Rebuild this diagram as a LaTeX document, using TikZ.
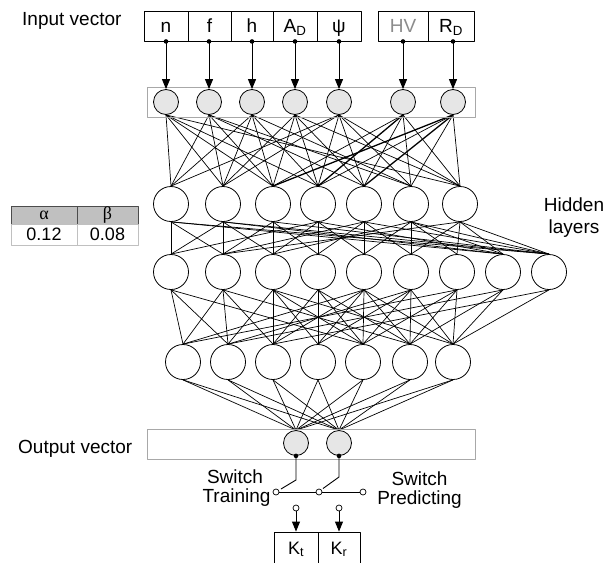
\documentclass[tikz,border=0pt]{standalone}
\usepackage{fontspec}
\setmainfont{Liberation Sans}
\newfontfamily\greekserif{Liberation Serif}
\usetikzlibrary{arrows.meta,backgrounds}

\definecolor{nodegray}{HTML}{E6E6E6}
\definecolor{framegray}{HTML}{A8A8A8}
\definecolor{headgray}{HTML}{C0C0C0}
\definecolor{textgray}{HTML}{8C8C8C}

\tikzset{
  txt/.style={inner sep=0pt, font=\fontsize{19}{22}\selectfont},
  cell/.style={draw, line width=0.9pt, rectangle, minimum height=30pt, inner sep=0pt,
    text height=13.6pt, text depth=1.6pt, font=\fontsize{19}{22}\selectfont},
  kcell/.style={draw, line width=0.9pt, rectangle, minimum height=40pt, inner sep=0pt,
    text height=12pt, text depth=8pt, font=\fontsize{18}{22}\selectfont},
  layerframe/.style={draw=framegray, line width=1pt, rectangle, minimum width=328pt,
    minimum height=30pt, inner sep=0pt},
  inode/.style={circle, draw, line width=0.8pt, fill=nodegray, minimum size=25pt, inner sep=0pt},
  hnode/.style={circle, draw, line width=0.8pt, fill=white, minimum size=35pt, inner sep=0pt},
  link/.style={line width=0.7pt},
  boldlink/.style={line width=1.3pt},
  arr/.style={line width=0.9pt, -{Triangle[length=10pt,width=8pt]}},
  pinnode/.style={circle, draw, line width=0.7pt, fill=white, minimum size=6pt, inner sep=0pt},
  hcell/.style={rectangle, draw=black!70, line width=0.9pt, fill=headgray, minimum height=18pt,
    inner sep=0pt, font=\greekserif\fontsize{18}{20}\selectfont},
  vcell/.style={rectangle, draw=headgray, line width=0.9pt, minimum height=21pt, inner sep=0pt,
    font=\fontsize{18}{20}\selectfont},
}

\begin{document}
\begin{tikzpicture}[x=1pt,y=-1pt,line join=round]
\useasboundingbox (0,0) rectangle (604,562);
\clip (0,0) rectangle (604,562);

% ---- input vector ----
\node[txt, anchor=base west] (lin) at (22,25) {Input vector};
\node[cell, minimum width=44pt] (cn) at (166,26) {n};
\node[cell, minimum width=43pt] (cf) at (209.5,26) {f};
\node[cell, minimum width=42pt] (ch) at (252,26) {h};
\node[cell, minimum width=44pt] (ca) at (295,26) {A\textsubscript{D}};
\node[cell, minimum width=44pt] (cp) at (339,26) {ψ};
\node[cell, minimum width=50pt, text=textgray] (cv) at (403,26) {HV};
\node[cell, minimum width=46pt] (cr) at (451,26) {R\textsubscript{D}};

% ---- input layer ----
\node[layerframe] (inframe) at (311,102) {};
\foreach \i/\x in {1/166,2/209,3/252,4/295,5/339,6/403,7/453}
  \node[inode] (i\i) at (\x,102) {};

\foreach \c/\i in {cn/1,cf/2,ch/3,ca/4,cp/5,cv/6,cr/7}{
  \draw[arr] (i\i.north |- \c.south) -- (i\i.north);
  \fill (i\i.north |- \c.south) circle (2.3);
}

% ---- hidden layers ----
\foreach \i/\x in {1/171,2/223,3/273,4/318,5/364,6/411,7/460}
  \node[hnode] (a\i) at (\x,204) {};
\foreach \i/\x in {1/171,2/223,3/273,4/318,5/364,6/411,7/457,8/503,9/549}
  \node[hnode] (b\i) at (\x,272) {};
\foreach \i/\x in {1/183,2/228,3/273,4/318,5/363,6/410,7/453}
  \node[hnode] (c\i) at (\x,362) {};

\node[txt, anchor=base] (lh1) at (574,211) {Hidden};
\node[txt, anchor=base] (lh2) at (574,233) {layers};

% ---- output layer ----
\node[layerframe] (outframe) at (311,444) {};
\node[inode] (o1) at (296,443) {};
\node[inode] (o2) at (339,443) {};
\node[txt, anchor=base west] (lout) at (18,453) {Output vector};

% ---- weights ----
\begin{scope}[on background layer]
  \fill[white] (0,0) rectangle (604,562);
  \foreach \s/\t in {1/1,1/2,1/3,1/4,1/7,
                     2/1,2/2,2/3,2/5,2/6,
                     3/1,3/2,3/3,3/4,3/6,
                     4/2,4/3,4/4,4/5,4/7,
                     5/1,5/2,5/4,5/5,5/6,5/7,
                     6/5,6/6,6/7,6/3,
                     7/4,7/6,7/7}
    \draw[link] (i\s.south) -- (a\t.north);
  \foreach \s/\t in {6/4,7/3,7/5}
    \draw[boldlink] (i\s.south) -- (a\t.north);

  \foreach \s/\t in {1/1,1/2,1/8,1/9,
                     2/1,2/2,2/3,2/8,2/9,
                     3/2,3/3,3/4,3/9,
                     4/1,4/3,4/4,4/5,4/8,
                     5/2,5/4,5/5,5/6,5/9,
                     6/3,6/5,6/6,6/7,6/8,6/9,
                     7/2,7/6,7/7,7/8,7/9}
    \draw[link] (a\s.south) -- (b\t.north);

  \foreach \s/\t in {1/1,1/2,1/5,
                     2/1,2/2,2/3,2/6,
                     3/2,3/3,3/4,3/5,3/7,
                     4/3,4/4,4/5,4/6,
                     5/1,5/3,5/4,5/5,5/6,5/7,
                     6/2,6/4,6/5,6/6,6/7,
                     7/1,7/5,7/6,7/7,
                     8/2,8/6,8/7,
                     9/3,9/7}
    \draw[link] (b\s.south) -- (c\t.north);

  \foreach \s in {1,...,7}{
    \draw[link] (c\s.south) -- (o1.north);
    \draw[link] (c\s.south) -- (o2.north);
  }
\end{scope}

% ---- switches ----
\node[pinnode] (s1) at (276,492) {};
\node[pinnode] (s2) at (319,492) {};
\node[pinnode] (s3) at (363,492) {};
\draw[link] (s1.east) -- (s2.west);
\draw[link] (s2.east) -- (s3.west);
\coordinate (k1) at (296,480);
\coordinate (e1) at (281,489);
\coordinate (k2) at (339,477);
\coordinate (e2) at (323,488.5);
\draw[line width=0.9pt] (o1.south) -- (k1) -- (e1);
\draw[line width=0.9pt] (o2.south) -- (k2) -- (e2);
\fill (o1.south) circle (2.3);
\fill (o2.south) circle (2.3);

\node[txt, anchor=base] (sw1) at (235,483) {Switch};
\node[txt, anchor=base] (tr) at (236.5,502) {Training};
\node[txt, anchor=base] (sw2) at (419.5,485) {Switch};
\node[txt, anchor=base] (pr) at (419.5,504) {Predicting};

% ---- targets ----
\node[pinnode] (p1) at (296,508) {};
\node[pinnode] (p2) at (339,508) {};
\node[kcell, minimum width=44pt] (kt) at (296,552) {K\textsubscript{t}};
\node[kcell, minimum width=42pt] (kr) at (339,552) {K\textsubscript{r}};
\draw[arr] (p1.south) -- (kt.north);
\draw[arr] (p2.south) -- (kr.north);

% ---- learning parameters ----
\node[hcell, minimum width=66pt] (ta) at (44,215) {α};
\node[hcell, minimum width=61pt] (tb) at (107.5,215) {β};
\node[vcell, minimum width=66pt] (va) at (44,234.5) {0.12};
\node[vcell, minimum width=61pt] (vb) at (107.5,234.5) {0.08};
\end{tikzpicture}
\end{document}
